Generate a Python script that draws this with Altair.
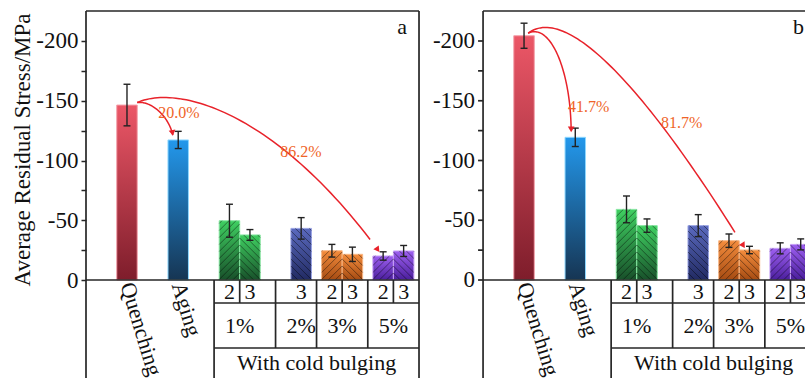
import math
import altair as alt
import pandas as pd

# ---------------- data ----------------
treatments = ["Quenching", "Aging", "1%", "1%", "2%", "3%", "3%", "5%", "5%"]
passes = ["", "", "2", "3", "3", "2", "3", "2", "3"]
stress_a = [-146.4, -117.2, -49.6, -37.7, -43.2, -24.5, -21.5, -20.1, -24.3]
error_a = [17.4, 7.2, 13.8, 4.5, 9.0, 5.3, 6.0, 3.5, 4.6]
stress_b = [-204.4, -119.4, -59.1, -45.5, -45.5, -32.9, -25.1, -26.5, -29.8]
error_b = [10.5, 7.7, 11.2, 5.6, 9.2, 5.6, 3.1, 4.6, 4.6]
reduction_a = ["20.0%", "86.2%"]
reduction_b = ["41.7%", "81.7%"]
arrow_targets_a = [("Aging", ""), ("5%", "2")]
arrow_targets_b = [("Aging", ""), ("3%", "3")]
y_major = [0, -50, -100, -150, -200]
y_minor = [-25, -75, -125, -175]
group_label = "With cold bulging"
y_title = "Average Residual Stress/MPa"
panel_letters = ["a", "b"]

# ---------------- layout / style ----------------
FONT = "Liberation Serif"
W, H = 719, 367
X_MAX = 70.17
Y_TOP, Y_BOT = -225.1, 82.0
PXU = W / X_MAX
PXV = H / (Y_BOT - Y_TOP)
PANEL_W = 32.5
OFFSETS = {"a": 0.0, "b": 38.75}
GROUPS = ["Quenching", "Aging", "1%", "2%", "3%", "5%"]
COLD = ["1%", "2%", "3%", "5%"]
ROW1 = 23 / PXV
ROW2 = 68 / PXV
LINE_C = "#262626"
COLORS = {
    "Quenching": ("#ec5767", "#7e1d2b", "#f4a0aa"),
    "Aging": ("#2398ec", "#163553", "#8fd8ff"),
    "1%": ("#3fd061", "#18502a", "#86e6a0"),
    "2%": ("#5b6abf", "#212a62", "#9aa4e4"),
    "3%": ("#f58d3d", "#a54b12", "#f9b784"),
    "5%": ("#9e60f1", "#4a1e9c", "#c7a0f7"),
}
ARROW_START = {"a": 1.0, "b": 0.4}          # units right of the Quenching bar centre
ARROW_CTRL = {                               # px offsets: (P1 - P0), (P2 - P3)
    "a": [((15, -2), (-3, -19)), ((43, -19), (-100, -138))],
    "b": [((22, -11), (0, -63)), ((37, -28), (-105, -170))],
}
ARROW_TIP = {"a": [(-0.5, -3), (-0.3, -3)], "b": [(-0.4, -4), (-0.4, -1)]}
LABEL_POS = {"a": [(93, 101.5), (215, 141)], "b": [(105.7, 96), (198.7, 112)]}


def slot(t, p):
    return 4 + 5 * GROUPS.index(t) + (2 if p == "3" else 0)


def to_px_y(v):
    return (v - Y_TOP) * PXV


def from_px_y(py):
    return Y_TOP + py / PXV


bars = []
for panel, vals, errs in (("a", stress_a, error_a), ("b", stress_b, error_b)):
    off = OFFSETS[panel]
    for t, p, v, e in zip(treatments, passes, vals, errs):
        xc = off + slot(t, p)
        bars.append(dict(panel=panel, treatment=t, passes=p, value=v, err=e, xc=xc,
                         x0=xc - 1, x1=xc + 1, lo=v - e, hi=v + e, zero=0.0,
                         cap0=xc - 0.34, cap1=xc + 0.34))
bars_df = pd.DataFrame(bars)

# hatch segments derived from each cold-bulged bar
hatch = []
STEP = 7.0
for b in bars:
    if b["treatment"] not in COLD:
        continue
    w = 2 * PXU
    h = -b["value"] * PXV
    segs = []
    n = int((h + w) / STEP) + 2
    for k in range(n):
        if b["passes"] == "2":  # "/"
            c = k * STEP - w
            xa, xb = max(0, -c), min(w, h - c)
            if xb > xa + 0.3:
                segs.append((xa, xa + c, xb, xb + c))
        else:  # "\"
            c = k * STEP
            xa, xb = max(0, c - h), min(w, c)
            if xb > xa + 0.3:
                segs.append((xa, c - xa, xb, c - xb))
    for (xa, ua, xb, ub) in segs:
        hatch.append(dict(x=b["x0"] + xa / PXU, x2=b["x0"] + xb / PXU,
                          y=-ua / PXV, y2=-ub / PXV))
hatch_df = pd.DataFrame(hatch)

# frame and table lines
lines = []
texts = []
for panel in ("a", "b"):
    off = OFFSETS[panel]
    pb = [b for b in bars if b["panel"] == panel]
    cold = [[b for b in pb if b["treatment"] == g] for g in COLD]
    t_left = min(b["x0"] for b in cold[0]) - 0.5
    t_right = max(b["x1"] for b in cold[-1]) + 0.5
    lines += [
        (off, off + PANEL_W, 0, 0),
        (off, off + PANEL_W, Y_TOP, Y_TOP),
        (off, off, Y_TOP, Y_BOT),
        (off + PANEL_W, off + PANEL_W, Y_TOP, Y_BOT),
        (t_left, t_left, 0, Y_BOT),
        (t_left, t_right, ROW1, ROW1),
        (t_left, t_right, ROW2, ROW2),
    ]
    for g1, g2 in zip(cold[:-1], cold[1:]):
        d = (max(b["x1"] for b in g1) + min(b["x0"] for b in g2)) / 2
        lines.append((d, d, 0, ROW2))
    for g in cold:
        if len(g) == 2:
            d = (g[0]["xc"] + g[1]["xc"]) / 2
            lines.append((d, d, 0, ROW1))
        for b in g:
            texts.append(dict(x=b["xc"], y=ROW1 / 2, text=b["passes"], size=22, anchor="center"))
        texts.append(dict(x=sum(b["xc"] for b in g) / len(g), y=(ROW1 + ROW2) / 2,
                          text=g[0]["treatment"], size=22, anchor="center"))
    texts.append(dict(x=(t_left + t_right) / 2, y=(ROW2 + Y_BOT) / 2, text=group_label,
                      size=22, anchor="center"))
    if panel == "b":
        for v in y_major + y_minor:
            lines.append((off - 5 / PXU, off, v, v))
        for v in y_major:
            texts.append(dict(x=off - 8 / PXU, y=v, text=str(v), size=23, anchor="right"))

line_rows = []
for (x, x2, y, y2) in lines:
    if x > X_MAX + 1e-9:
        continue
    line_rows.append(dict(x=x, x2=min(x2, X_MAX), y=y, y2=y2))
lines_df = pd.DataFrame(line_rows)
text_df = pd.DataFrame(texts)

rot_df = pd.DataFrame([dict(x=b["xc"], y=from_px_y(to_px_y(0) + 3), text=b["treatment"])
                       for b in bars if b["treatment"] in ("Quenching", "Aging")])
letter_df = pd.DataFrame([dict(x=OFFSETS[p] + PANEL_W - 12 / PXU, y=from_px_y(23), text=p)
                          for p in panel_letters])

# arrows (cubic curves from the Quenching bar top to the target bar tops)
arrow_pts, heads, pct = [], [], []
for panel, targets, labels in (("a", arrow_targets_a, reduction_a), ("b", arrow_targets_b, reduction_b)):
    off = OFFSETS[panel]
    q = next(b for b in bars if b["panel"] == panel and b["treatment"] == "Quenching")
    p0 = ((q["xc"] + ARROW_START[panel]) * PXU, to_px_y(q["value"]) - 2.5)
    for i, (t, p) in enumerate(targets):
        tb = next(b for b in bars if b["panel"] == panel and b["treatment"] == t and b["passes"] == p)
        tipdx, tipdy = ARROW_TIP[panel][i]
        p3 = ((tb["xc"] + tipdx) * PXU, to_px_y(tb["value"]) + tipdy)
        (c1x, c1y), (c2x, c2y) = ARROW_CTRL[panel][i]
        p1 = (p0[0] + c1x, p0[1] + c1y)
        p2 = (p3[0] + c2x, p3[1] + c2y)
        n = 60
        for j in range(n + 1):
            s = j / n
            if s > 0.97:
                break
            a, bb, c, d = (1 - s) ** 3, 3 * (1 - s) ** 2 * s, 3 * (1 - s) * s ** 2, s ** 3
            px = a * p0[0] + bb * p1[0] + c * p2[0] + d * p3[0]
            py = a * p0[1] + bb * p1[1] + c * p2[1] + d * p3[1]
            arrow_pts.append(dict(key=f"{panel}{i}", order=j, x=px / PXU, y=from_px_y(py)))
        dx, dy = p3[0] - p2[0], p3[1] - p2[1]
        L = math.hypot(dx, dy)
        ang = math.degrees(math.atan2(dx, -dy)) % 360
        cx, cy = p3[0] - 4 * dx / L, p3[1] - 4 * dy / L
        heads.append(dict(x=cx / PXU, y=from_px_y(cy), angle=ang))
        lx, ly = LABEL_POS[panel][i]
        pct.append(dict(x=off + lx / PXU, y=from_px_y(ly), text=labels[i]))
arrow_df = pd.DataFrame(arrow_pts)
head_df = pd.DataFrame(heads)
pct_df = pd.DataFrame(pct)

# ---------------- chart ----------------
xs = alt.Scale(domain=[0, X_MAX], nice=False, zero=False)
ys = alt.Scale(domain=[Y_TOP, Y_BOT], nice=False, zero=False, reverse=True)
yaxis = alt.Axis(values=y_major + y_minor, domain=False, grid=False,
                 labelExpr="datum.value % 50 == 0 ? toString(datum.value) : ''",
                 labelFont=FONT, labelFontSize=23, labelColor="#111", labelPadding=3,
                 tickSize=5, tickWidth=1.5, tickColor=LINE_C,
                 titleFont=FONT, titleFontSize=23, titleFontWeight="normal", titleColor="#111",
                 titleAngle=270, titleX=-64, titleY=138.5, titleAlign="center", titleBaseline="middle")


def X(f):
    return alt.X(f"{f}:Q", scale=xs, axis=None)


def Y(f):
    return alt.Y(f"{f}:Q", scale=ys, axis=yaxis, title=y_title)


layers = []
for g in GROUPS:
    top, bot, stroke = COLORS[g]
    grad = alt.Gradient(gradient="linear",
                        stops=[alt.GradientStop(color=top, offset=0), alt.GradientStop(color=bot, offset=1)],
                        x1=0, y1=0, x2=0, y2=1)
    layers.append(alt.Chart(bars_df[bars_df["treatment"] == g]).mark_rect(
        fill=grad, stroke=stroke, strokeWidth=1, clip=True).encode(
        x=X("x0"), x2="x1", y=Y("zero"), y2="value"))

layers.append(alt.Chart(hatch_df).mark_rule(color="#000", opacity=0.5, strokeWidth=0.85, clip=True).encode(
    x=X("x"), x2="x2", y=Y("y"), y2="y2"))

layers.append(alt.Chart(bars_df).mark_rule(color="#222", strokeWidth=1.4, clip=True).encode(
    x=X("xc"), y=Y("lo"), y2="hi"))
layers.append(alt.Chart(bars_df).mark_rule(color="#222", strokeWidth=1.4, clip=True).encode(
    x=X("cap0"), x2="cap1", y=Y("lo")))
layers.append(alt.Chart(bars_df).mark_rule(color="#222", strokeWidth=1.4, clip=True).encode(
    x=X("cap0"), x2="cap1", y=Y("hi")))

layers.append(alt.Chart(lines_df).mark_rule(color=LINE_C, strokeWidth=1.7).encode(
    x=X("x"), x2="x2", y=Y("y"), y2="y2"))

layers.append(alt.Chart(arrow_df).mark_line(color="#e8222a", strokeWidth=1.5).encode(
    x=X("x"), y=Y("y"), detail="key:N", order="order:Q"))
layers.append(alt.Chart(head_df).mark_point(shape="triangle-up", filled=True, color="#e8222a",
                                            size=45, opacity=1).encode(
    x=X("x"), y=Y("y"), angle=alt.Angle("angle:Q", scale=None)))

layers.append(alt.Chart(pct_df).mark_text(font=FONT, fontSize=16, color="#ef6428",
                                          align="center", baseline="middle").encode(
    x=X("x"), y=Y("y"), text="text:N"))

for al in ("center", "right"):
    sub = text_df[text_df["anchor"] == al]
    for sz in sorted(sub["size"].unique()):
        layers.append(alt.Chart(sub[sub["size"] == sz]).mark_text(
            font=FONT, fontSize=int(sz), color="#111", align=al, baseline="middle").encode(
            x=X("x"), y=Y("y"), text="text:N"))

layers.append(alt.Chart(rot_df).mark_text(font=FONT, fontSize=22, color="#111", align="left",
                                          baseline="middle", angle=73).encode(
    x=X("x"), y=Y("y"), text="text:N"))
layers.append(alt.Chart(letter_df).mark_text(font=FONT, fontSize=22, color="#111", align="right",
                                             baseline="alphabetic").encode(
    x=X("x"), y=Y("y"), text="text:N"))

chart = alt.layer(*layers).properties(
    width=W, height=H,
    padding={"left": 86, "top": 11, "right": 0, "bottom": 0},
    autosize=alt.AutoSizeParams(type="none"),
    background="white",
).configure_view(stroke=None)

chart.save("out.html", embed_options={"renderer": "svg", "actions": False})
